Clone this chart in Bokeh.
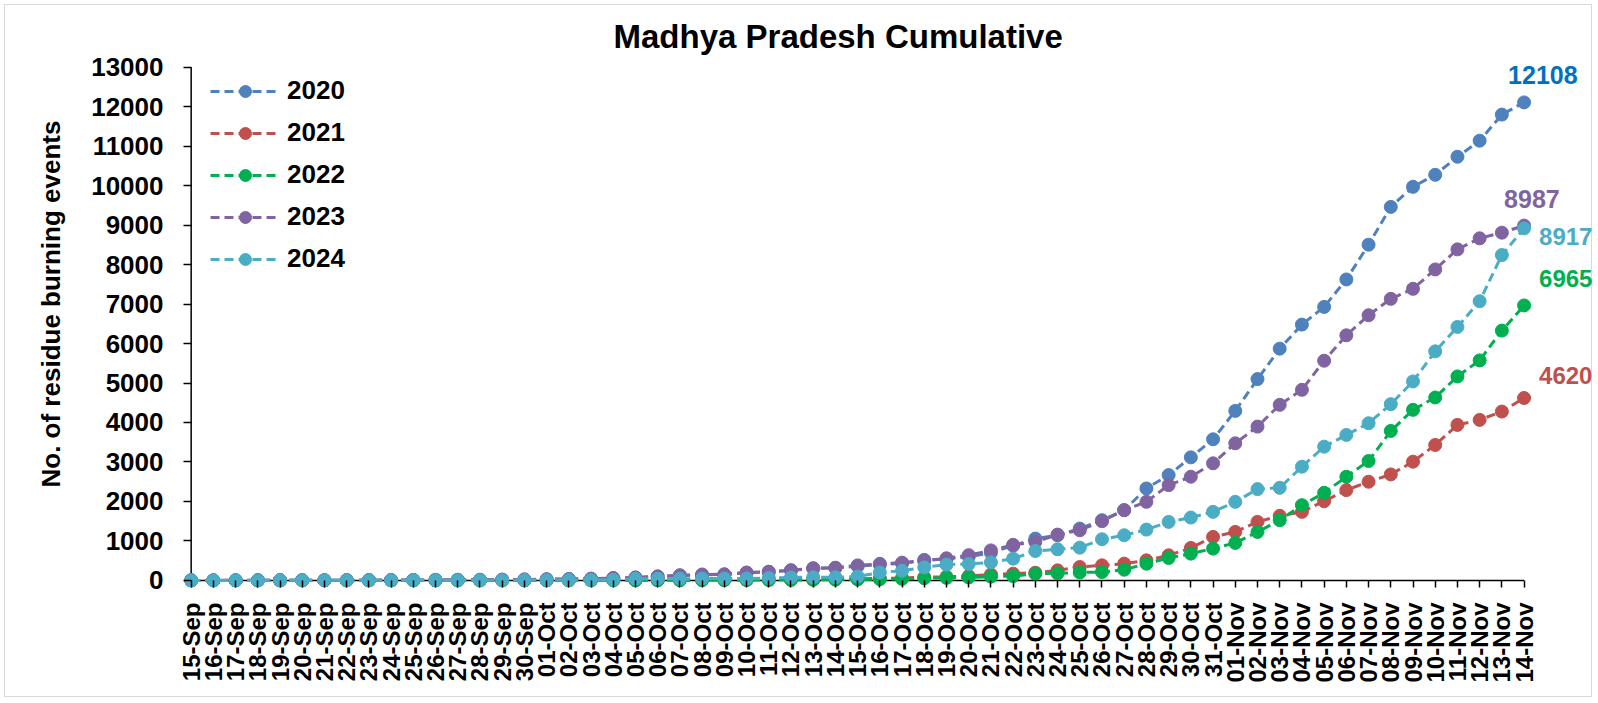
import math
from bokeh.plotting import figure
from bokeh.models import Range1d, FixedTicker, Legend, LegendItem, Label, Title
from bokeh.embed import file_html
from bokeh.resources import INLINE

dates = ([f"{d:02d}-Sep" for d in range(15, 31)]
         + [f"{d:02d}-Oct" for d in range(1, 32)]
         + [f"{d:02d}-Nov" for d in range(1, 15)])

years = ["2020", "2021", "2022", "2023", "2024"]

v2020 = [0, 0, 1, 1, 2, 3, 4, 5, 6, 7, 8, 10, 12, 14, 17, 21, 26, 32,
         40, 55, 70, 100, 130, 150, 155, 190, 215, 260, 310, 315, 360, 400, 430, 520, 540, 600, 700, 880,
         1059, 1143, 1313, 1525, 1779, 2329, 2668, 3117, 3574, 4294, 5099, 5870, 6480, 6928, 7623,
         8504, 9461, 9969, 10274, 10731, 11138, 11799, 12108]
v2021 = [0, 0, 0, 0, 0, 0, 0, 0, 0, 0, 0, 0, 0, 0, 0, 0, 0, 0,
         2, 3, 4, 5, 6, 8, 10, 12, 14, 16, 20, 25, 40, 50, 60, 80, 90, 110, 150, 170,
         195, 254, 339, 381, 424, 508, 635, 822, 1101, 1228, 1482, 1635, 1736, 2007, 2287,
         2499, 2685, 3007, 3430, 3939, 4066, 4277, 4620]
v2022 = [0, 0, 0, 0, 0, 0, 0, 0, 0, 0, 0, 0, 0, 0, 0, 0, 0, 0,
         2, 3, 4, 5, 6, 8, 10, 12, 14, 16, 18, 20, 24, 30, 40, 55, 65, 75, 95, 110,
         169, 180, 200, 212, 271, 424, 567, 678, 805, 949, 1228, 1525, 1906, 2219, 2626,
         3024, 3786, 4320, 4633, 5167, 5573, 6327, 6965]
v2023 = [0, 1, 2, 3, 4, 5, 6, 7, 8, 10, 12, 14, 16, 18, 21, 25, 30, 36,
         45, 60, 75, 100, 125, 140, 150, 200, 220, 250, 300, 320, 380, 420, 450, 490, 560, 640, 760, 900,
         974, 1160, 1270, 1499, 1779, 1990, 2414, 2626, 2965, 3473, 3896, 4447, 4828, 5565, 6208,
         6717, 7132, 7386, 7877, 8385, 8665, 8809, 8987]
v2024 = [0, 0, 0, 0, 1, 1, 2, 2, 3, 3, 4, 4, 5, 5, 6, 7, 8, 9,
         10, 15, 40, 40, 42, 45, 45, 48, 60, 75, 78, 80, 100, 200, 245, 330, 400, 415, 457, 551,
         745, 788, 830, 1042, 1143, 1287, 1482, 1592, 1736, 1990, 2312, 2346, 2880, 3388, 3684,
         3981, 4464, 5040, 5802, 6420, 7072, 8241, 8917]

y_ticks = list(range(0, 13001, 1000))

series = [v2020, v2021, v2022, v2023, v2024]
colors = ["#4F81BD", "#C0504D", "#00B050", "#8064A2", "#4BACC6"]
label_colors = ["#0070C0", "#C0504D", "#00B050", "#8064A2", "#4BACC6"]
# end-label placement (x_offset, y_offset, font size)
label_place = [(-16, 27, "25px"), (15, 23, "24px"), (15, 27, "24px"), (-20, 27, "25px"), (15, -8, "24px")]

FONT = "Liberation Sans"
x_idx = list(range(len(dates)))

p = figure(width=1596, height=701, output_backend="svg", toolbar_location=None,
           x_range=Range1d(-0.3, 63.17), y_range=Range1d(-180, 13220),
           min_border_left=184, min_border_right=2, min_border_top=58, min_border_bottom=114,
           styles={"outline": "1px solid #D9D9D9", "outline-offset": "-5px"})
p.background_fill_color = None
p.border_fill_color = None
p.outline_line_color = None
p.xgrid.visible = False
p.ygrid.visible = False

p.title.text = "Madhya Pradesh Cumulative"
p.title.align = "left"
p.title.offset = 429
p.title.text_font = FONT
p.title.text_font_size = "33px"
p.title.text_font_style = "bold"
p.title.text_color = "black"
p.title.standoff = 8

# axis lines at the data origin
p.segment(x0=[x_idx[0]], y0=[0], x1=[x_idx[-1]], y1=[0], line_color="black", line_width=1.5)
p.segment(x0=[x_idx[0]], y0=[y_ticks[0]], x1=[x_idx[0]], y1=[y_ticks[-1]], line_color="black", line_width=1.5)

items = []
for yr, vals, col in zip(years, series, colors):
    ln = p.line(x_idx, vals, line_color=col, line_width=3, line_dash="9 5")
    sc = p.scatter(x_idx, vals, marker="circle", size=13, fill_color=col, line_color=col)
    items.append(LegendItem(label=yr, renderers=[ln, sc]))

for vals, lc, (xo, yo, fs) in zip(series, label_colors, label_place):
    p.add_layout(Label(x=x_idx[-1], y=vals[-1], text=str(vals[-1]), x_offset=xo, y_offset=yo,
                       text_align="left", text_baseline="middle", text_font=FONT,
                       text_font_size=fs, text_font_style="bold", text_color=lc))

legend = Legend(items=items, location=(26, 313), border_line_color=None,
                background_fill_alpha=0, label_text_font=FONT, label_text_font_style="bold",
                label_text_font_size="26px", label_text_color="black",
                glyph_width=70, glyph_height=30, label_height=30, spacing=11,
                padding=4, margin=0, label_standoff=7)
p.add_layout(legend)

xa = p.xaxis[0]
xa.ticker = FixedTicker(ticks=x_idx)
xa.major_label_overrides = {i: d for i, d in enumerate(dates)}
xa.major_label_orientation = math.pi / 2
xa.major_label_text_font = FONT
xa.major_label_text_font_style = "bold"
xa.major_label_text_font_size = "24px"
xa.major_label_text_color = "black"
xa.major_label_standoff = 15
xa.major_tick_in = 7
xa.major_tick_out = 0

ya = p.yaxis[0]
ya.ticker = FixedTicker(ticks=y_ticks)
ya.major_label_text_font = FONT
ya.major_label_text_font_style = "bold"
ya.major_label_text_font_size = "26px"
ya.major_label_text_color = "black"
ya.major_label_standoff = 20
ya.major_tick_in = 7
ya.major_tick_out = 1

for ax in (xa, ya):
    ax.axis_line_color = None
    ax.major_tick_line_color = "black"
    ax.major_tick_line_width = 1.5
    ax.minor_tick_line_color = None

# y-axis title as a side title so it can sit where the reference puts it
ytitle = Title(text="No. of residue burning events", align="left", offset=100, standoff=46,
               vertical_align="bottom", text_font=FONT, text_font_size="26px",
               text_font_style="bold", text_color="black")
p.add_layout(ytitle, "left")

open("out.html", "w").write(file_html(p, INLINE))
